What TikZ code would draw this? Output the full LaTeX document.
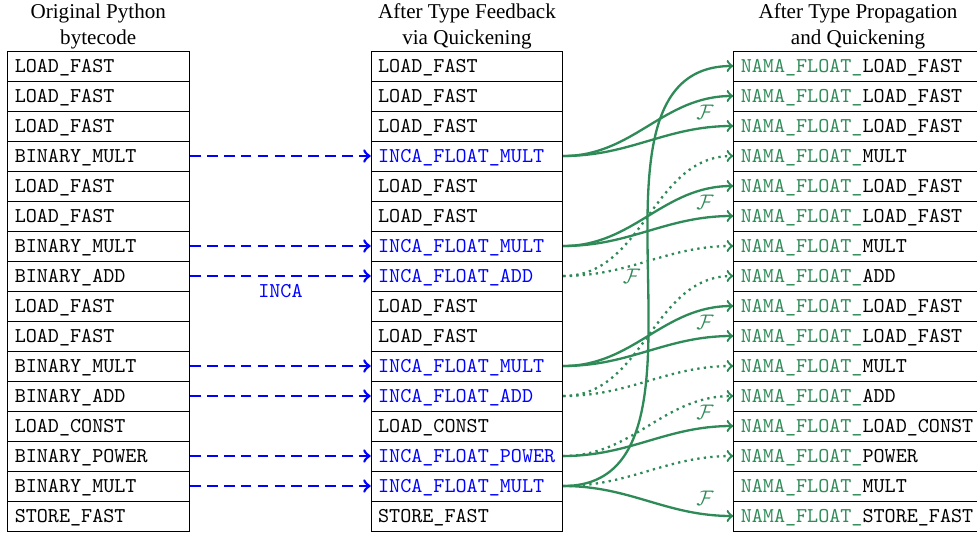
\documentclass[tikz,border=0pt]{standalone}
\usepackage{fontspec}
\setmainfont{Liberation Serif}
\usepackage{xcolor}
\usepackage{tikz}
\usetikzlibrary{positioning}

\definecolor{incablue}{RGB}{0,0,255}
\definecolor{namagreen}{RGB}{46,139,87}
\newcommand{\inca}[1]{\textcolor{incablue}{INCA\_FLOAT\_#1}}
\newcommand{\nama}[1]{\textcolor{namagreen}{NAMA\_FLOAT\_}#1}

\begin{document}
\begin{tikzpicture}[
  cell/.style={draw, anchor=west, minimum height=0.5cm, text height=6.1pt, text depth=0pt,
    align=left, font=\ttfamily},
  title/.style={align=center},
  quicken/.style={->, line width=1.3pt, incablue, dash pattern=on 5pt off 3pt},
  prop/.style={->, line width=1.1pt, namagreen},
  dep/.style={->, line width=1.1pt, namagreen, dotted}
]
\useasboundingbox (0,0) rectangle (16.283,-8.883);

% column headers
\node[title] (lt) at (1.638,-0.44) {Original Python\\bytecode};
\node[title] (mt) at (7.783,-0.44) {After Type Feedback\\via Quickening};
\node[title] (rt) at (14.3,-0.44) {After Type Propagation\\and Quickening};

% original bytecode
\foreach \op [count=\i from 0] in {LOAD\_FAST, LOAD\_FAST, LOAD\_FAST, BINARY\_MULT,
    LOAD\_FAST, LOAD\_FAST, BINARY\_MULT, BINARY\_ADD, LOAD\_FAST, LOAD\_FAST,
    BINARY\_MULT, BINARY\_ADD, LOAD\_CONST, BINARY\_POWER, BINARY\_MULT, STORE\_FAST}
  \node[cell, text width=2.8cm] (l\i) at (0.122,-1.1-0.5*\i) {\op};

% after quickening
\foreach \op [count=\i from 0] in {LOAD\_FAST, LOAD\_FAST, LOAD\_FAST, \inca{MULT},
    LOAD\_FAST, LOAD\_FAST, \inca{MULT}, \inca{ADD}, LOAD\_FAST, LOAD\_FAST,
    \inca{MULT}, \inca{ADD}, LOAD\_CONST, \inca{POWER}, \inca{MULT}, STORE\_FAST}
  \node[cell, text width=2.96cm] (m\i) at (6.178,-1.1-0.5*\i) {\op};

% after type propagation
\foreach \op [count=\i from 0] in {LOAD\_FAST, LOAD\_FAST, LOAD\_FAST, MULT,
    LOAD\_FAST, LOAD\_FAST, MULT, ADD, LOAD\_FAST, LOAD\_FAST,
    MULT, ADD, LOAD\_CONST, POWER, MULT, STORE\_FAST}
  \node[cell, text width=3.93cm] (r\i) at (12.222,-1.1-0.5*\i) {\nama{\op}};

% type feedback
\foreach \i in {3,6,10,11,13,14}
  \draw[quicken] (l\i.east) -- (m\i.west);
\draw[quicken] (l7.east) -- (m7.west) node[midway, below, font=\ttfamily] {INCA};

% propagation
\foreach \s/\t in {3/1,6/4,10/8}
  \draw[prop] (m\s.east) to[out=0,in=180] (r\t.west);
\foreach \s/\t in {3/2,6/5,10/9,13/12,14/15}
  \draw[prop] (m\s.east) to[out=0,in=180] node[pos=0.85, above] {$\mathcal{F}$} (r\t.west);
\draw[prop] (m14.east) to[out=0,in=180] node[midway, left] {$\mathcal{F}$} (r0.west);
\foreach \s/\t in {7/3,7/6,11/7,11/10,13/11,14/13}
  \draw[dep] (m\s.east) to[out=0,in=180] (r\t.west);
\end{tikzpicture}
\end{document}
